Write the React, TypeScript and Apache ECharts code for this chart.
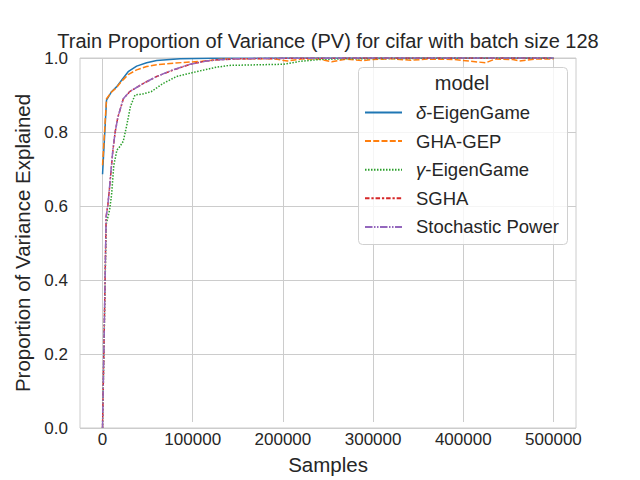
import React, { useEffect, useRef } from "react";
import * as echarts from "echarts";

const TITLE = "Train Proportion of Variance (PV) for cifar with batch size 128";
const X_LABEL = "Samples";
const Y_LABEL = "Proportion of Variance Explained";
const LEGEND_TITLE = "model";
const MODELS = ["δ-EigenGame", "GHA-GEP", "γ-EigenGame", "SGHA", "Stochastic Power"];
const COLORS = ["#1f77b4", "#ff7f0e", "#2ca02c", "#d62728", "#9467bd"];
const X_TICKS = [0, 100000, 200000, 300000, 400000, 500000];
const Y_TICKS = [0, 0.2, 0.4, 0.6, 0.8, 1.0];

const deltaSamples = [0, 4400, 10000, 15500, 21100, 28400, 37800, 48900, 60000, 74800, 86000, 120000, 200000, 300000, 400000, 500000];
const deltaValues = [0.686, 0.886, 0.909, 0.922, 0.94, 0.963, 0.978, 0.987, 0.993, 0.996, 0.998, 0.999, 1.0, 1.0, 1.0, 1.0];

const ghaSamples = [0, 4400, 10000, 15500, 21100, 28400, 37800, 48900, 60000, 75000, 90000, 110000, 133000, 160000, 190000, 205000, 220000, 240000, 254000, 270000, 290000, 300000, 320000, 342000, 360000, 390000, 425000, 435000, 455000, 462000, 480000, 500000];
const ghaValues = [0.71, 0.89, 0.908, 0.92, 0.937, 0.955, 0.968, 0.977, 0.982, 0.985, 0.988, 0.991, 0.997, 0.998, 0.998, 0.992, 0.997, 0.997, 0.99, 0.997, 0.993, 0.996, 0.998, 0.994, 0.997, 0.996, 0.987, 0.997, 0.996, 0.992, 0.997, 0.997];

const gammaSamples = [0, 4000, 7800, 10000, 12500, 15900, 19000, 23000, 27000, 31000, 36000, 45000, 54000, 67000, 82000, 104000, 126000, 141000, 200000, 219000, 241000, 270000, 350000, 500000];
const gammaValues = [0.0, 0.55, 0.589, 0.63, 0.71, 0.751, 0.76, 0.775, 0.82, 0.87, 0.9, 0.903, 0.909, 0.931, 0.95, 0.963, 0.975, 0.98, 0.983, 0.991, 0.996, 0.998, 0.999, 0.999];

const sghaSamples = [0, 4000, 5900, 7800, 11400, 14000, 17000, 23000, 30000, 45000, 60000, 78000, 97000, 115000, 127000, 150000, 200000, 300000, 400000, 500000];
const sghaValues = [0.0, 0.572, 0.603, 0.65, 0.748, 0.8, 0.84, 0.889, 0.909, 0.931, 0.95, 0.967, 0.983, 0.992, 0.995, 0.998, 0.999, 1.0, 1.0, 1.0];

const powerSamples = [0, 4000, 5900, 7800, 11400, 14000, 17000, 23000, 30000, 45000, 60000, 78000, 97000, 115000, 127000, 150000, 200000, 300000, 400000, 500000];
const powerValues = [0.0, 0.57, 0.603, 0.652, 0.751, 0.8, 0.84, 0.89, 0.909, 0.931, 0.95, 0.968, 0.983, 0.992, 0.995, 0.998, 0.999, 1.0, 1.0, 1.0];

const SERIES_SAMPLES = [deltaSamples, ghaSamples, gammaSamples, sghaSamples, powerSamples];
const SERIES_VALUES = [deltaValues, ghaValues, gammaValues, sghaValues, powerValues];
const DASHES: any[] = ["solid", [6, 2.25], [1.5, 1.5], [4.5, 1.9, 2.25, 1.9], [7.5, 1.5, 1.5, 1.5, 1.5, 1.5]];

const FONT = "'Liberation Sans', Arial, sans-serif";
const TXT = "#262626";

export default function App() {
  const ref = useRef<HTMLDivElement>(null);
  useEffect(() => {
    if (!ref.current) return;
    const chart = echarts.init(ref.current, undefined, { renderer: "svg" });

    const gl = 80, gt = 58, gw = 496, gh = 370;
    const xLo = X_TICKS[0], xHi = X_TICKS[X_TICKS.length - 1];
    const pad = 0.05 * (xHi - xLo);
    const fullMin = xLo - pad, fullMax = xHi + pad;
    const innerLeft = gl + (gw * (xLo - fullMin)) / (fullMax - fullMin);
    const innerWidth = (gw * (xHi - xLo)) / (fullMax - fullMin);

    const greek = (name: string) => {
      const c = name.charAt(0);
      if (c === "δ" || c === "γ") return "{i|" + c + "}" + name.slice(1);
      return name;
    };

    const option: any = {
      animation: false,
      backgroundColor: "#ffffff",
      textStyle: { fontFamily: FONT },
      title: {
        text: TITLE,
        left: gl + gw / 2,
        top: 31,
        padding: 0,
        textAlign: "center",
        textStyle: { fontFamily: FONT, fontSize: 20, fontWeight: "normal", color: TXT },
      },
      grid: [
        { left: gl, top: gt, width: gw, height: gh, show: true, borderColor: "#cccccc", borderWidth: 1, backgroundColor: "transparent", z: 0 },
        { left: innerLeft, top: gt, width: innerWidth, height: gh, show: false },
      ],
      xAxis: [
        {
          type: "value", gridIndex: 0, min: fullMin, max: fullMax,
          axisLine: { show: false }, axisTick: { show: false }, axisLabel: { show: false }, splitLine: { show: false },
        },
        {
          type: "value", gridIndex: 1, min: xLo, max: xHi, interval: X_TICKS[1] - X_TICKS[0],
          axisLine: { show: false }, axisTick: { show: false },
          axisLabel: { show: true, margin: 9, fontFamily: FONT, fontSize: 17, color: TXT, formatter: (v: number) => String(v) },
          splitLine: { show: true, lineStyle: { color: "#cccccc", width: 1 } },
          name: X_LABEL, nameLocation: "middle", nameGap: 32,
          nameTextStyle: { fontFamily: FONT, fontSize: 20.5, color: TXT },
        },
      ],
      yAxis: [
        {
          type: "value", gridIndex: 0, min: Y_TICKS[0], max: Y_TICKS[Y_TICKS.length - 1], interval: Y_TICKS[1] - Y_TICKS[0],
          axisLine: { show: false }, axisTick: { show: false },
          axisLabel: { margin: 12, fontFamily: FONT, fontSize: 17, color: TXT, formatter: (v: number) => v.toFixed(1) },
          splitLine: { show: true, lineStyle: { color: "#cccccc", width: 1 } },
          name: Y_LABEL, nameLocation: "middle", nameGap: 44,
          nameTextStyle: { fontFamily: FONT, fontSize: 20.5, color: TXT },
        },
        { type: "value", gridIndex: 1, min: 0, max: 1, show: false },
      ],
      legend: {
        show: true,
        orient: "vertical",
        left: 364,
        top: 103,
        padding: 0,
        itemWidth: 37,
        itemHeight: 12,
        itemGap: 9.6,
        z: 5,
        data: MODELS,
        formatter: greek,
        itemStyle: { opacity: 0 },
        textStyle: {
          fontFamily: FONT, fontSize: 18.5, color: TXT, padding: [0, 0, 0, 9],
          rich: { i: { fontFamily: FONT, fontSize: 18.5, color: TXT, fontStyle: "italic" } },
        },
      },
      graphic: [
        {
          type: "rect", z: 4, left: 358, top: 67,
          shape: { x: 0, y: 0, width: 209, height: 177, r: 4 },
          style: { fill: "rgba(255,255,255,0.8)", stroke: "#d0d0d0", lineWidth: 1 },
        },
        {
          type: "text", z: 5, x: 462, y: 83,
          style: { text: LEGEND_TITLE, fontFamily: FONT, fontSize: 20, fill: TXT, align: "center", verticalAlign: "middle" },
        },
      ],
      series: MODELS.map((name, k) => ({
        name,
        type: "line",
        xAxisIndex: 0,
        yAxisIndex: 0,
        showSymbol: false,
        symbol: "none",
        color: COLORS[k],
        lineStyle: { color: COLORS[k], width: 1.5, type: DASHES[k] },
        data: SERIES_SAMPLES[k].map((s, j) => [s, SERIES_VALUES[k][j]]),
        z: 2 + k * 0.01,
      })),
    };
    chart.setOption(option);
    return () => chart.dispose();
  }, []);
  return <div ref={ref} style={{ position: "absolute", left: 0, top: 0, width: 640, height: 480 }} />;
}
